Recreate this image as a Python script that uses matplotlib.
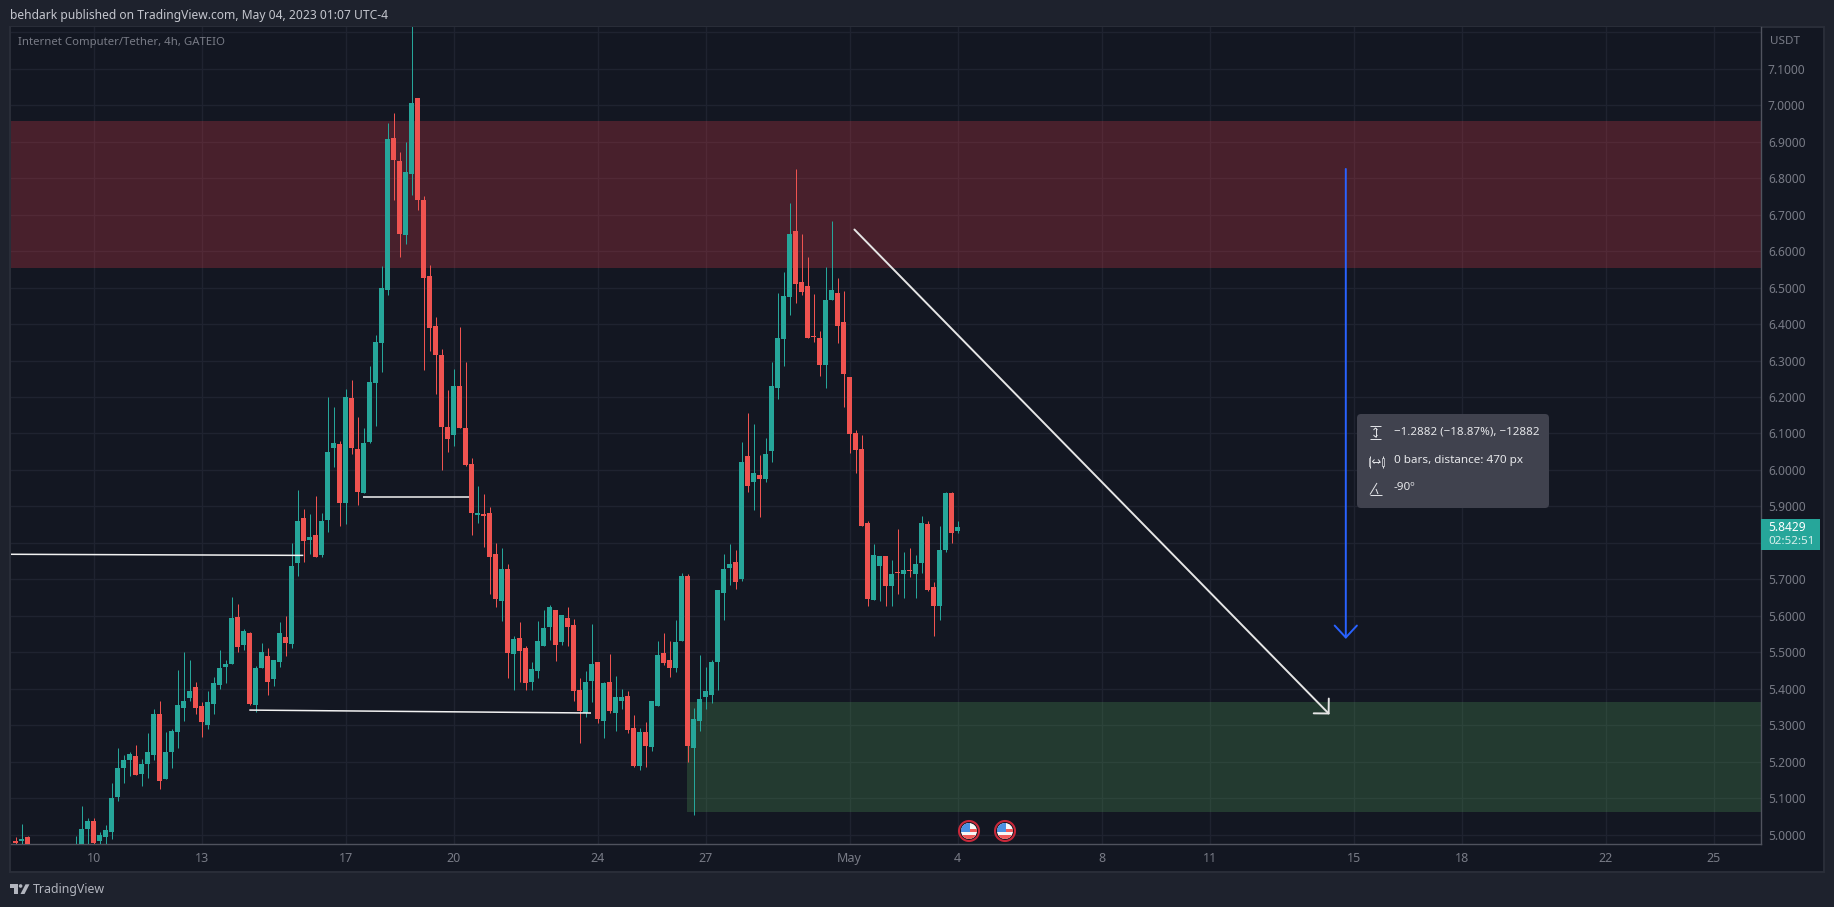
import numpy as np
import matplotlib
matplotlib.use("Agg")
import matplotlib.pyplot as plt
from matplotlib.patches import Rectangle, Circle, Polygon, FancyBboxPatch

plt.rcParams["font.family"] = ["Noto Sans", "DejaVu Sans"]

nan = np.nan

# 4h candles of ICP/USDT. first bar is index -13 (0 = Apr 10 00:00)
first_bar = -13
opens = [4.984, 4.982, 4.993, nan, nan, nan, nan, nan, nan, nan,
         4.92, 4.96, 5.017, 5.039, 4.984, 4.995, 5.009, 5.105, 5.184, 5.206,
         5.215, 5.168, 5.195, 5.220, 5.330, 5.152, 5.228, 5.283, 5.349, 5.374,
         5.404, 5.352, 5.302, 5.360, 5.412, 5.461, 5.467, 5.598, 5.521, 5.552,
         5.357, 5.458, 5.491, 5.426, 5.475, 5.543, 5.524, 5.746, 5.869, 5.809,
         5.822, 5.767, 5.863, 6.060, 6.071, 5.910, 6.197, 6.058, 5.937, 6.077,
         6.238, 6.348, 6.493, 6.910, 6.847, 6.644, 6.811, 7.019, 6.740, 6.532,
         6.395, 6.315, 6.118, 6.096, 6.230, 6.115, 6.016, 5.877, 5.879, 5.881,
         5.769, 5.640, 5.728, 5.495, 5.539, 5.511, 5.418, 5.448, 5.517, 5.569,
         5.616, 5.528, 5.594, 5.574, 5.396, 5.333, 5.421, 5.473, 5.311, 5.418,
         5.333, 5.366, 5.380, 5.292, 5.188, 5.281, 5.240, 5.353, 5.498, 5.479,
         5.457, 5.531, 5.709, 5.237, 5.311, 5.377, 5.383, 5.473, 5.664, 5.732,
         5.749, 5.700, 6.037, 5.968, 5.985, 5.974, 6.051, 6.224, 6.358, 6.473,
         6.654, 6.514, 6.503, 6.366, 6.363, 6.287, 6.465, 6.484, 6.405, 6.254,
         6.100, 6.057, 5.856, 5.645, 5.738, 5.763, 5.681, 5.721, 5.716, 5.727,
         5.716, 5.746, 5.853, 5.678, 5.626, 5.782, 5.938, 5.834]
closes = [4.979, 4.990, 4.96, nan, nan, nan, nan, nan, nan, nan,
          4.95, 5.015, 5.039, 4.979, 5.001, 5.012, 5.102, 5.184, 5.204, 5.223,
          5.165, 5.193, 5.228, 5.332, 5.149, 5.226, 5.286, 5.357, 5.368, 5.393,
          5.349, 5.308, 5.363, 5.415, 5.458, 5.469, 5.593, 5.516, 5.560, 5.360,
          5.458, 5.500, 5.420, 5.478, 5.552, 5.527, 5.738, 5.861, 5.806, 5.817,
          5.762, 5.860, 6.049, 6.074, 5.910, 6.200, 6.060, 5.940, 6.074, 6.241,
          6.351, 6.499, 6.907, 6.849, 6.647, 6.816, 7.005, 6.740, 6.526, 6.389,
          6.315, 6.118, 6.085, 6.230, 6.115, 6.014, 5.882, 5.882, 5.874, 5.762,
          5.646, 5.728, 5.498, 5.536, 5.503, 5.416, 5.454, 5.531, 5.566, 5.624,
          5.520, 5.602, 5.569, 5.394, 5.339, 5.418, 5.468, 5.317, 5.416, 5.339,
          5.377, 5.377, 5.287, 5.188, 5.281, 5.243, 5.366, 5.492, 5.470, 5.457,
          5.528, 5.709, 5.243, 5.317, 5.372, 5.394, 5.473, 5.670, 5.730, 5.741,
          5.694, 6.023, 5.957, 5.993, 5.976, 6.043, 6.229, 6.361, 6.476, 6.648,
          6.509, 6.487, 6.361, 6.364, 6.289, 6.465, 6.492, 6.394, 6.262, 6.098,
          6.055, 5.847, 5.647, 5.766, 5.763, 5.681, 5.716, 5.719, 5.725, 5.724,
          5.741, 5.856, 5.672, 5.628, 5.782, 5.938, 5.828, 5.845]
highs = [4.993, 5.031, 4.998, nan, nan, nan, nan, nan, nan, nan,
         4.998, 5.080, 5.045, 5.047, 5.009, 5.028, 5.141, 5.237, 5.220, 5.228,
         5.245, 5.209, 5.278, 5.346, 5.368, 5.283, 5.289, 5.453, 5.500, 5.480,
         5.420, 5.365, 5.395, 5.434, 5.508, 5.480, 5.653, 5.634, 5.565, 5.557,
         5.464, 5.527, 5.513, 5.480, 5.584, 5.601, 5.801, 5.945, 5.893, 5.879,
         5.929, 5.882, 6.200, 6.173, 6.079, 6.222, 6.247, 6.145, 6.115, 6.285,
         6.370, 6.559, 6.951, 6.978, 6.871, 6.899, 7.300, 7.019, 6.751, 6.562,
         6.419, 6.332, 6.219, 6.277, 6.392, 6.296, 6.033, 5.956, 5.934, 5.899,
         5.799, 5.785, 5.742, 5.544, 5.583, 5.517, 5.473, 5.585, 5.616, 5.629,
         5.616, 5.602, 5.624, 5.591, 5.429, 5.448, 5.577, 5.473, 5.418, 5.495,
         5.435, 5.399, 5.394, 5.328, 5.292, 5.309, 5.366, 5.531, 5.553, 5.531,
         5.588, 5.717, 5.714, 5.347, 5.492, 5.459, 5.479, 5.670, 5.771, 5.796,
         5.782, 6.076, 6.155, 6.125, 6.040, 6.089, 6.295, 6.484, 6.542, 6.731,
         6.824, 6.648, 6.585, 6.481, 6.380, 6.555, 6.681, 6.525, 6.490, 6.254,
         6.109, 6.095, 5.861, 5.796, 5.763, 5.763, 5.754, 5.837, 5.774, 5.785,
         5.768, 5.875, 5.861, 5.694, 5.847, 5.941, 5.941, 5.859]
lows = [4.95, 4.95, 4.95, nan, nan, nan, nan, nan, nan, nan,
        4.90, 4.95, 4.96, 4.97, 4.97, 4.97, 4.990, 5.094, 5.143, 5.160,
        5.163, 5.135, 5.157, 5.204, 5.127, 5.152, 5.182, 5.237, 5.311, 5.368,
        5.332, 5.267, 5.291, 5.332, 5.401, 5.415, 5.467, 5.500, 5.508, 5.357,
        5.338, 5.458, 5.384, 5.409, 5.461, 5.489, 5.511, 5.710, 5.748, 5.770,
        5.762, 5.762, 5.830, 6.008, 5.847, 5.852, 6.044, 5.904, 5.937, 6.074,
        6.121, 6.268, 6.479, 6.740, 6.584, 6.619, 6.753, 6.712, 6.274, 6.326,
        6.208, 6.000, 6.049, 6.066, 6.115, 6.011, 5.822, 5.855, 5.789, 5.659,
        5.624, 5.585, 5.429, 5.396, 5.418, 5.396, 5.396, 5.429, 5.517, 5.533,
        5.476, 5.520, 5.517, 5.366, 5.251, 5.322, 5.363, 5.306, 5.265, 5.333,
        5.284, 5.344, 5.279, 5.185, 5.177, 5.185, 5.229, 5.353, 5.465, 5.432,
        5.446, 5.531, 5.199, 5.054, 5.284, 5.344, 5.361, 5.396, 5.590, 5.686,
        5.673, 5.697, 5.941, 5.889, 5.872, 5.968, 6.021, 6.194, 6.284, 6.426,
        6.457, 6.479, 6.361, 6.350, 6.257, 6.224, 6.465, 6.347, 6.172, 6.046,
        5.993, 5.847, 5.626, 5.645, 5.642, 5.628, 5.628, 5.659, 5.648, 5.708,
        5.648, 5.719, 5.669, 5.544, 5.590, 5.774, 5.799, 5.826]

# axis ticks
price_ticks = [5.0, 5.1, 5.2, 5.3, 5.4, 5.5, 5.6, 5.7, 5.8, 5.9, 6.0, 6.1,
               6.2, 6.3, 6.4, 6.5, 6.6, 6.7, 6.8, 6.9, 7.0, 7.1, 7.2]
hidden_price_ticks = [5.8, 7.2]
date_ticks = [0, 18, 42, 60, 84, 102, 126, 144, 168, 186, 210, 228, 252, 270]
date_labels = ["10", "13", "17", "20", "24", "27", "May", "4", "8", "11", "15", "18", "22", "25"]

# drawings on the chart
resistance_zone = (6.554, 6.956)
support_zone = (5.063, 5.364)
support_start = 98.95
white_lines = [((-13.9, 5.769), (34.95, 5.766)),
               ((25.95, 5.342), (82.9, 5.334)),
               ((44.85, 5.927), (62.6, 5.927))]
white_arrow = ((126.8, 6.659), (206.0, 5.330))
blue_arrow = ((208.7, 6.825), (208.7, 5.537))

BG = "#131722"
OUTER = "#1e222d"
BORDER = "#2a2e39"
GRID = "#1f2330"
GREEN = "#26a69a"
RED = "#ef5350"
TXT = "#787b86"

W, H = 1834, 907
fig = plt.figure(figsize=(W / 100, H / 100), dpi=100, facecolor=OUTER)


def px_axes(left, top, right, bottom, **kw):
    return fig.add_axes([left / W, 1 - bottom / H, (right - left) / W, (bottom - top) / H], **kw)


# back layer, the chart panel with its price and time scales
back = fig.add_axes([0, 0, 1, 1], zorder=0)
back.set_xlim(0, W)
back.set_ylim(H, 0)
back.axis("off")
back.add_patch(Rectangle((9.5, 26.5), 1814, 845, fc=BG, ec=BORDER, lw=1.4))

# main chart
ax = px_axes(10.5, 27, 1761, 844, zorder=1, facecolor=BG)
ax.set_xlim(-13.85, 277.9)
ax.set_ylim(4.975, 7.214)

ax.axhspan(*resistance_zone, color="#e73b4a", alpha=0.25, lw=0, zorder=1)
ax.add_patch(Rectangle((support_start, support_zone[0]), 400, support_zone[1] - support_zone[0],
                       fc="#53a35a", alpha=0.25, lw=0, zorder=1))

idx = np.arange(len(opens)) + first_bar
o = np.array(opens)
c = np.array(closes)
hi = np.array(highs)
lo = np.array(lows)
cols = np.where(c >= o, GREEN, RED)
ok = ~np.isnan(o)
ax.vlines(idx[ok], lo[ok], hi[ok], colors=cols[ok], lw=0.72, zorder=3)
ax.bar(idx[ok], np.abs(c - o)[ok], bottom=np.minimum(o, c)[ok], width=0.85, color=cols[ok], lw=0, zorder=4)

for start, end in white_lines:
    ax.plot([start[0], end[0]], [start[1], end[1]], color="#f2f2f2", lw=1.1, zorder=5,
            solid_capstyle="butt")
ax.annotate("", xy=white_arrow[1], xytext=white_arrow[0], zorder=6,
            arrowprops=dict(arrowstyle="->,head_length=7.6,head_width=7.6", mutation_scale=1,
                            color="#e6e6e6", lw=1.4, shrinkA=0, shrinkB=0))
ax.annotate("", xy=blue_arrow[1], xytext=blue_arrow[0], zorder=6,
            arrowprops=dict(arrowstyle="->,head_length=8.6,head_width=8", mutation_scale=1,
                            color="#2962ff", lw=1.4, shrinkA=0, shrinkB=0))

ax.grid(True, color=GRID, lw=1.0)
ax.set_axisbelow(True)
ax.yaxis.tick_right()
ax.set_yticks(price_ticks)
ax.set_yticklabels(["" if p in hidden_price_ticks else f"{p:.4f}" for p in price_ticks])
ax.set_xticks(date_ticks)
ax.set_xticklabels(date_labels)
ax.tick_params(axis="y", length=0, pad=5, labelsize=8.6, labelcolor=TXT)
ax.tick_params(axis="x", length=0, pad=5.5, labelsize=9, labelcolor=TXT)
ax.get_xticklabels()[date_labels.index("May")].set_fontweight("bold")
for side in ["top", "left"]:
    ax.spines[side].set_visible(False)
for side in ["right", "bottom"]:
    ax.spines[side].set_color("#50535e")
    ax.spines[side].set_linewidth(1.0)

# top layer in pixel coords: header, footer, labels, stats box, flags
top = fig.add_axes([0, 0, 1, 1], zorder=2)
top.set_xlim(0, W)
top.set_ylim(H, 0)
top.axis("off")
top.patch.set_alpha(0)

top.text(10, 15, "behdark published on TradingView.com, May 04, 2023 01:07 UTC-4",
         color="#c4c6ce", fontsize=8.7, fontweight="medium", va="center", ha="left")
top.text(18, 42, "Internet Computer/Tether, 4h, GATEIO", color=TXT, fontsize=8.2, va="center")
top.text(1770, 41, "USDT", color=TXT, fontsize=8.4, va="center")

# last price label
top.add_patch(Rectangle((1761, 519), 59, 31, fc=GREEN, lw=0))
top.text(1768, 527.5, "5.8429", color="white", fontsize=8.6, fontweight="bold", va="center")
top.text(1768, 542, "02:52:51", color="#d6efec", fontsize=8.4, va="center")

# measure tool stats box
top.add_patch(FancyBboxPatch((1359, 416), 188, 90, boxstyle="round,pad=2,rounding_size=4",
                             fc="#40424e", lw=0))
box_col = "#e6e7ea"
top.text(1394, 432, "\u22121.2882 (\u221218.87%), \u221212882", color=box_col, fontsize=8.3, va="center")
top.text(1394, 460, "0 bars, distance: 470 px", color=box_col, fontsize=8.4, va="center")
top.text(1394, 488, "-90\u00ba", color=box_col, fontsize=8.4, va="center")
icon = dict(color=box_col, lw=0.7, solid_capstyle="butt")
top.plot([1370, 1381], [426, 426], **icon)
top.plot([1370, 1381], [439, 439], **icon)
top.plot([1375.5, 1375.5], [428, 437], **icon)
top.plot([1373.5, 1375.5, 1377.5], [430, 428, 430], **icon)
top.plot([1373.5, 1375.5, 1377.5], [435, 437, 435], **icon)
for bx in [1369.5, 1383]:
    top.add_patch(Rectangle((bx - 0.8, 458), 1.6, 8, fc="none", ec=box_col, lw=0.5))
    top.plot([bx, bx], [456, 458], **icon)
    top.plot([bx, bx], [466, 468], **icon)
top.plot([1372.5, 1380], [461.5, 461.5], **icon)
top.plot([1374.5, 1372.5, 1374.5], [459.5, 461.5, 463.5], **icon)
top.plot([1378, 1380, 1378], [459.5, 461.5, 463.5], **icon)
top.plot([1370, 1382], [494.5, 494.5], **icon)
top.plot([1370, 1377], [494.5, 483], **icon)
top.plot([1376, 1378], [489, 494], **icon)

# economic event flags
for fx in [969, 1005]:
    top.add_patch(Circle((fx, 831), 10, fc=BG, ec="#c9283a", lw=1.5))
    disc = Circle((fx, 831), 8, fc="#f7f7f7", lw=0)
    top.add_patch(disc)
    for sy, sh in [(829, 2.5), (834.5, 5)]:
        r = Rectangle((fx - 9, sy), 18, sh, fc="#f05a5a", lw=0)
        top.add_patch(r)
        r.set_clip_path(disc)
    r = Rectangle((fx - 9, 822), 9.5, 9.5, fc="#4a90e2", lw=0)
    top.add_patch(r)
    r.set_clip_path(disc)

# TradingView logo in footer
logo = "#b2b5be"
top.add_patch(Polygon([(10, 884.3), (17.5, 884.3), (17.5, 894), (13.5, 894), (13.5, 887.5), (10, 887.5)],
                      fc=logo, lw=0))
top.add_patch(Circle((20.6, 886), 1.8, fc=logo, lw=0))
top.add_patch(Polygon([(29.5, 884.3), (25.5, 884.3), (20.5, 894), (24.5, 894)], fc=logo, lw=0))
top.text(33, 889.5, "TradingView", color=logo, fontsize=8.9, va="center")

fig.savefig("out.png", dpi=100, facecolor=OUTER)
